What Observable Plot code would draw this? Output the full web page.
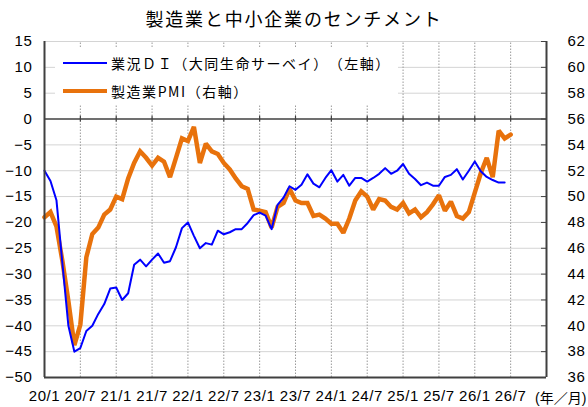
<!DOCTYPE html>
<html>
<head>
<meta charset="utf-8">
<script src="https://cdn.jsdelivr.net/npm/d3@7"></script>
<script src="https://cdn.jsdelivr.net/npm/@observablehq/plot@0.6"></script>
<style>
  html, body { margin: 0; padding: 0; background: #fff; }
  #wrap { position: relative; width: 588px; height: 407px; overflow: hidden; background: #fff; text-spacing-trim: space-all; }
  #title { position: absolute; top: 0; left: 0; width: 588px; text-align: center;
    font-family: "Noto Sans CJK JP", sans-serif; font-size: 18px; line-height: 36px; letter-spacing: 1.8px; color: #000; }
  #chart { position: absolute; top: 33px; left: 0; }
  #chart svg { letter-spacing: 0.6px; }
  #legend { position: absolute; left: 55px; top: 47px; width: 343px; height: 57px; background: #fff; }
  .item { position: absolute; left: 8px; height: 20px; display: flex; align-items: center; }
  .swatch { width: 44px; margin-right: 4px; flex: none; }
  .label { font-family: "Noto Sans CJK JP", sans-serif; font-size: 14px; letter-spacing: 1.55px; color: #000; white-space: nowrap; display: inline-block; text-spacing-trim: space-all; font-feature-settings: "halt" 0, "chws" 0; }
  #unit { position: absolute; left: 535px; top: 387px; font-family: "Liberation Sans", "Noto Sans CJK JP", sans-serif; font-size: 14px; color: #000; white-space: nowrap; }
</style>
</head>
<body>
<div id="wrap">
  <div id="title"></div>
  <div id="chart"></div>
  <div id="legend"></div>
  <div id="unit"></div>
</div>
<script>
// ---- data ----
const titleText = "製造業と中小企業のセンチメント";
const startMonth = "2020-01";
const xTickLabels = ["20/1","20/7","21/1","21/7","22/1","22/7","23/1","23/7","24/1","24/7","25/1","25/7","26/1","26/7"];
const xUnit = "(年／月)";
const seriesNames = ["業況ＤＩ（大同生命サーベイ）（左軸）", "製造業PMI（右軸）"];
const leftTicks = [-50,-45,-40,-35,-30,-25,-20,-15,-10,-5,0,5,10,15];
const rightTicks = [36,38,40,42,44,46,48,50,52,54,56,58,60,62];
// 業況DI (left axis), monthly from 2020/1
const diValues = [
  -10,-12,-15.7,-28,-40,-45,-44.3,-41,-40,-37.7,-35.8,-32.8,
  -32.6,-35,-33.7,-28.2,-27.2,-28.5,-27.2,-26,-27.8,-27.5,-24.8,-21.1,
  -20,-22.6,-25,-24,-24.3,-21.6,-22.3,-21.9,-21.3,-21.3,-20.1,-18.6,
  -18.1,-18.7,-21.3,-16.6,-15.2,-13,-13.7,-12.7,-10.7,-12.5,-13.2,-11.4,
  -9.9,-12.1,-10.8,-12.9,-11.4,-11.4,-12.1,-11.4,-10.6,-9.5,-10.6,-10,
  -8.7,-10.6,-11.6,-12.8,-12.3,-12.9,-12.9,-11.2,-10.8,-9.7,-11.7,-10,
  -8.2,-10.1,-11.2,-11.8,-12.3,-12.3
];
// 製造業PMI (right axis), monthly from 2020/1
const pmiValues = [
  48.4,48.8,47.7,45.0,41.9,38.5,40.1,45.3,47.1,47.6,48.6,49.0,
  50.0,49.8,51.4,52.6,53.5,53.0,52.4,53.0,52.7,51.5,53.0,54.5,
  54.3,55.4,52.6,54.1,53.5,53.3,52.6,52.1,51.4,50.8,50.6,49.0,
  48.9,48.8,47.6,49.2,49.5,50.6,49.7,49.5,49.5,48.5,48.6,48.3,
  47.9,47.9,47.2,48.3,49.7,50.4,50.0,49.0,49.8,49.7,49.2,49.0,
  49.5,48.7,49.0,48.4,48.8,49.4,50.1,48.9,49.6,48.5,48.3,48.8,
  50.3,51.8,53.0,51.5,55.1,54.5,54.8
];

// ---- scales helpers ----
const nMonths = 84; // 2020/1 .. 2026/12
const xTickIdx = xTickLabels.map((_, k) => k * 6);
const toLeft = r => (r - 56) * 2.5;      // right axis value -> left axis value
const toRight = v => Math.round(v / 2.5 + 56);

const diData = diValues.map((v, i) => ({i, v}));
const pmiData = pmiValues.map((v, i) => ({i, v: toLeft(v)}));

const axisColor = "#404040";
const plotW = 588 - 44 - 42;

const chart = Plot.plot({
  width: 588,
  height: 374,
  marginTop: 8,
  marginBottom: 30,
  marginLeft: 44,
  marginRight: 42,
  style: {fontFamily: "'Liberation Sans', Arial, sans-serif", fontSize: "15px", color: "#000", background: "transparent", overflow: "visible"},
  x: {type: "linear", domain: [0, nMonths], axis: null, label: null},
  y: {domain: [-50, 15], axis: null, label: null},
  marks: [
    Plot.ruleY(leftTicks.filter(d => d !== 0), {stroke: "#d4d4d4", strokeWidth: 1}),
    Plot.ruleX(xTickIdx.filter(d => d > 0), {y1: -50, y2: 15, stroke: "#9a9a9a", strokeWidth: 1, strokeDasharray: "1.5,1.5"}),
    Plot.ruleY([0], {stroke: axisColor, strokeWidth: 1.5}),
    Plot.ruleX(xTickIdx.filter(d => d > 0), {y1: -0.55, y2: 0.55, stroke: axisColor, strokeWidth: 1.2}),
    Plot.tickY(rightTicks.map(toLeft), {stroke: axisColor, strokeWidth: 1, insetLeft: plotW - 5}),
    Plot.line(pmiData, {x: "i", y: "v", stroke: "#E8720C", strokeWidth: 4.5, strokeLinejoin: "miter", strokeMiterlimit: 2}),
    Plot.line(diData, {x: "i", y: "v", stroke: "#0000FF", strokeWidth: 2}),
    Plot.ruleX([0], {stroke: axisColor, strokeWidth: 2}),
    Plot.ruleX([nMonths], {stroke: axisColor, strokeWidth: 2}),
    Plot.ruleY([-50], {stroke: axisColor, strokeWidth: 2}),
    Plot.axisY({anchor: "left", label: null, ticks: leftTicks, tickSize: 0, tickPadding: 12, fill: "#000", fontSize: 15}),
    Plot.axisY({anchor: "right", label: null, ticks: rightTicks.map(toLeft), tickFormat: toRight, tickSize: 0, tickPadding: 21, fill: "#000", fontSize: 15}),
    Plot.axisX({anchor: "bottom", label: null, ticks: xTickIdx, tickFormat: d => xTickLabels[d / 6], tickSize: 0, tickPadding: 13, fill: "#000", fontSize: 15})
  ]
});
document.getElementById("chart").appendChild(chart);
document.getElementById("title").textContent = titleText;
document.getElementById("unit").textContent = xUnit;

// legend
const legend = document.getElementById("legend");
const styles = [{color: "#0000FF", w: 2}, {color: "#E8720C", w: 4.5}];
seriesNames.forEach((name, k) => {
  const item = document.createElement("div");
  item.className = "item";
  item.style.top = (k === 0 ? 6 : 34) + "px";
  const sw = document.createElement("div");
  sw.className = "swatch";
  sw.style.height = styles[k].w + "px";
  sw.style.background = styles[k].color;
  const lb = document.createElement("span");
  lb.className = "label";
  lb.textContent = name;
  item.appendChild(sw);
  item.appendChild(lb);
  legend.appendChild(item);
});
</script>
</body>
</html>
